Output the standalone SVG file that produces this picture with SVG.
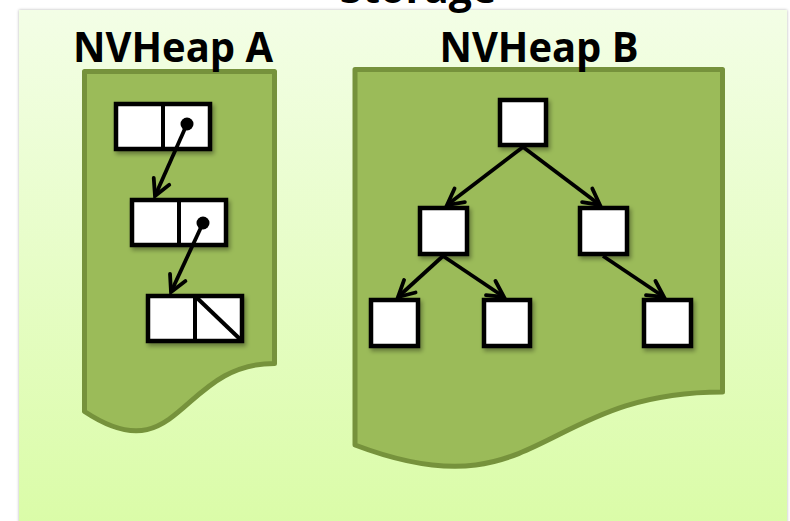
<svg xmlns="http://www.w3.org/2000/svg" width="790" height="521" viewBox="0 0 790 521">
  <defs>
    <linearGradient id="panelFill" x1="0" y1="0" x2="0" y2="1">
      <stop offset="0" stop-color="#f3fee6"/>
      <stop offset="1" stop-color="#dafca7"/>
    </linearGradient>
    <filter id="panelShadow" x="-5%" y="-5%" width="110%" height="110%">
      <feDropShadow dx="0" dy="0" stdDeviation="1.5" flood-color="#000" flood-opacity="0.3"/>
    </filter>
    <filter id="boxShadow" x="-20%" y="-20%" width="150%" height="150%">
      <feDropShadow dx="2" dy="3" stdDeviation="2" flood-color="#000" flood-opacity="0.35"/>
    </filter>
    <marker id="arrow" markerUnits="userSpaceOnUse" markerWidth="26" markerHeight="26" viewBox="-22 -13 26 26" refX="0" refY="0" orient="auto">
      <path d="M-16,-8.5 L0,0 L-16,8.5" fill="none" stroke="#000" stroke-width="3.8" stroke-linecap="round" stroke-linejoin="miter"/>
    </marker>
    <style>
      .heap { fill: #9bbb59; stroke: #76923c; stroke-width: 5; stroke-linejoin: round; }
      .box { fill: #ffffff; stroke: #000; stroke-width: 4.5; filter: url(#boxShadow); }
      .sep { stroke: #000; stroke-width: 4; }
      .title { font-family: "Open Sans", "Liberation Sans", sans-serif; font-weight: 700; font-size: 41px; fill: #000; }
      .link { stroke: #000; stroke-width: 3.8; fill: none; marker-end: url(#arrow); }
    </style>
  </defs>

  <rect width="790" height="521" fill="#ffffff"/>

  <!-- storage panel; its heading sits above the panel's top edge -->
  <rect x="19" y="10" width="768" height="520" fill="url(#panelFill)" filter="url(#panelShadow)"/>
  <text class="title" x="418" y="3" text-anchor="middle">Storage</text>

  <!-- heap A: linked list -->
  <g id="heapA">
    <path class="heap" d="M84.5,71.5 H274.5 V363.4 C179.5,363.4 179.5,474.6 84.5,411.5 Z"/>
    <text class="title" x="173" y="62" text-anchor="middle" textLength="200" lengthAdjust="spacingAndGlyphs">NVHeap A</text>
  </g>
  <g id="listNode1">
    <rect class="box" x="116" y="104" width="94" height="45"/>
    <line class="sep" x1="163" y1="104" x2="163" y2="149"/>
    <circle cx="187" cy="124" r="6.5" fill="#000"/>
  </g>
  <g id="listNode2">
    <rect class="box" x="132" y="200" width="94" height="45"/>
    <line class="sep" x1="179" y1="200" x2="179" y2="245"/>
    <circle cx="203" cy="223" r="6.5" fill="#000"/>
  </g>
  <g id="listNode3">
    <rect class="box" x="148" y="296" width="94" height="45"/>
    <line class="sep" x1="195" y1="296" x2="195" y2="341"/>
    <line class="sep" x1="195" y1="296" x2="242" y2="341" stroke-width="3"/>
  </g>

  <!-- heap B: binary tree -->
  <g id="heapB">
    <path class="heap" d="M355,69.5 H722.5 V392 C538.75,392 538.75,514.7 355,445 Z"/>
    <text class="title" x="539" y="62" text-anchor="middle" textLength="199" lengthAdjust="spacingAndGlyphs">NVHeap B</text>
  </g>
  <g id="treeRoot"><rect class="box" x="500" y="100" width="46" height="45"/></g>
  <g id="treeLeft"><rect class="box" x="420" y="208" width="47" height="46"/></g>
  <g id="treeRight"><rect class="box" x="580" y="208" width="47" height="46"/></g>
  <g id="treeLeftLeft"><rect class="box" x="371" y="300" width="47" height="46"/></g>
  <g id="treeLeftRight"><rect class="box" x="484" y="300" width="46" height="46"/></g>
  <g id="treeRightRight"><rect class="box" x="644" y="300" width="47" height="46"/></g>

  <!-- pointers -->
  <g id="connectors">
    <line class="link" x1="187" y1="124" x2="155" y2="196"/>
    <line class="link" x1="203" y1="223" x2="171" y2="292"/>
    <line class="link" x1="523" y1="147" x2="447" y2="205"/>
    <line class="link" x1="523" y1="147" x2="600" y2="205"/>
    <line class="link" x1="443" y1="256" x2="398" y2="297"/>
    <line class="link" x1="443" y1="256" x2="504" y2="297"/>
    <line class="link" x1="603" y1="256" x2="664" y2="297"/>
  </g>
</svg>
